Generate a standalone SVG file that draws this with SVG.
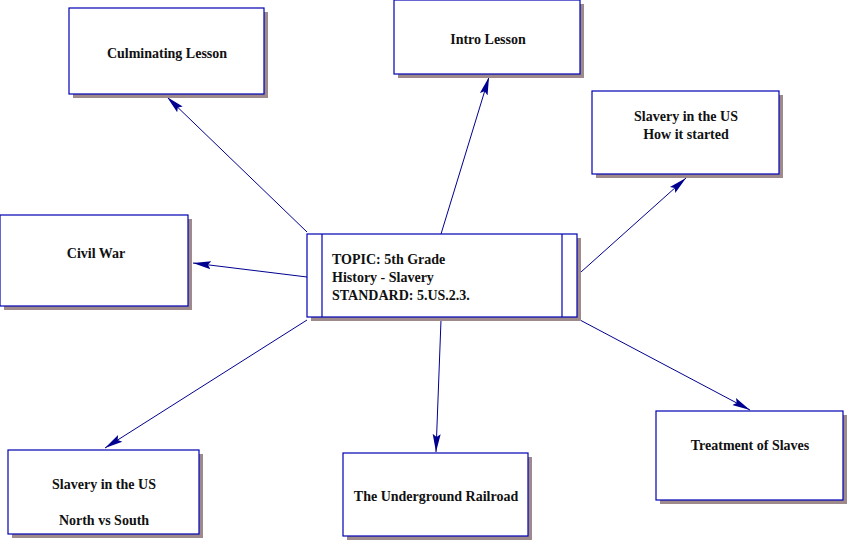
<svg xmlns="http://www.w3.org/2000/svg" width="848" height="541" viewBox="0 0 848 541">
<style>
.sh{fill:#9e8a8a}
.bx{fill:#fff;stroke:#0000b4;stroke-width:1.2}
.t{font-family:'Liberation Serif','Times New Roman','DejaVu Serif',serif;font-weight:bold;font-size:14px;fill:#111;text-anchor:middle}
.tl{font-family:'Liberation Serif','Times New Roman','DejaVu Serif',serif;font-weight:bold;font-size:14px;fill:#111}
.c{stroke:#000090;stroke-width:1;fill:none;marker-end:url(#ah)}
</style>
<defs>
<marker id="ah" markerUnits="userSpaceOnUse" markerWidth="20" markerHeight="12" viewBox="0 -6 20 12" refX="18" refY="0" orient="auto">
<path d="M0,-4 L18,0 L0,4 L3,0 z" fill="#000090"/>
</marker>
</defs>
<rect width="848" height="541" fill="#fff"/>
<g id="connectors">
<line class="c" x1="307" y1="232" x2="167" y2="97"/>
<line class="c" x1="441" y1="234" x2="489" y2="77"/>
<line class="c" x1="581" y1="272" x2="686" y2="178"/>
<line class="c" x1="307" y1="277" x2="193" y2="263"/>
<line class="c" x1="307" y1="320" x2="105" y2="448"/>
<line class="c" x1="441" y1="320" x2="436" y2="452"/>
<line class="c" x1="580" y1="320" x2="750" y2="410"/>
</g>
<g id="center">
<rect class="sh" x="311" y="238" width="270" height="83"/>
<rect class="bx" x="307" y="234" width="270" height="83"/>
<line x1="322" y1="234" x2="322" y2="317" stroke="#0000b4" stroke-width="1.2"/>
<line x1="562" y1="234" x2="562" y2="317" stroke="#0000b4" stroke-width="1.2"/>
<text class="tl" x="332" y="264">TOPIC: 5th Grade</text>
<text class="tl" x="332" y="282">History - Slavery</text>
<text class="tl" x="332" y="300">STANDARD: 5.US.2.3.</text>
</g>
<g id="culminating">
<rect class="sh" x="73" y="12" width="195" height="86"/>
<rect class="bx" x="69" y="8" width="195" height="86"/>
<text class="t" x="167" y="58">Culminating Lesson</text>
</g>
<g id="intro">
<rect class="sh" x="398" y="4" width="186" height="74"/>
<rect class="bx" x="394" y="0" width="186" height="74"/>
<text class="t" x="488" y="44">Intro Lesson</text>
</g>
<g id="started">
<rect class="sh" x="596" y="95" width="187" height="83"/>
<rect class="bx" x="592" y="91" width="187" height="83"/>
<text class="t" x="686" y="121">Slavery in the US</text>
<text class="t" x="686" y="139">How it started</text>
</g>
<g id="civilwar">
<rect class="sh" x="4" y="219" width="188" height="91"/>
<rect class="bx" x="0" y="215" width="188" height="91"/>
<text class="t" x="96" y="258">Civil War</text>
</g>
<g id="northsouth">
<rect class="sh" x="12" y="454" width="191" height="84"/>
<rect class="bx" x="8" y="450" width="191" height="84"/>
<text class="t" x="104" y="489">Slavery in the US</text>
<text class="t" x="104" y="525">North vs South</text>
</g>
<g id="railroad">
<rect class="sh" x="347" y="457" width="185" height="83"/>
<rect class="bx" x="343" y="453" width="185" height="83"/>
<text class="t" x="436" y="501">The Underground Railroad</text>
</g>
<g id="treatment">
<rect class="sh" x="660" y="415" width="187" height="89"/>
<rect class="bx" x="656" y="411" width="187" height="89"/>
<text class="t" x="750" y="450">Treatment of Slaves</text>
</g>
</svg>
